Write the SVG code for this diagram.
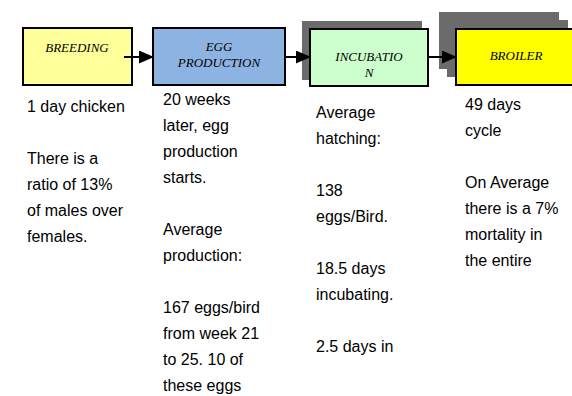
<svg xmlns="http://www.w3.org/2000/svg" width="572" height="396" viewBox="0 0 572 396">
<style>
.box{stroke:#000;stroke-width:2}
.shadow{fill:#6b6b6b}
.lbl{font-family:"Liberation Serif","Times New Roman",serif;font-style:italic;font-size:13px;fill:#000;text-anchor:middle}
.body{font-family:"Liberation Sans",Arial,sans-serif;font-size:16px;fill:#000}
.conn{stroke:#000;stroke-width:2;fill:none}
</style>
<defs>
<marker id="arr" markerWidth="15" markerHeight="13" refX="14" refY="6.5" orient="auto" markerUnits="userSpaceOnUse" viewBox="0 0 15 13">
<path d="M0,0 L15,6.5 L0,13 Z" fill="#000"/>
</marker>
</defs>
<rect width="572" height="396" fill="#fff"/>
<g id="breeding">
<rect class="box" x="23" y="28" width="109" height="57" fill="#ffff99"/>
<text class="lbl" x="77" y="52">BREEDING</text>
</g>
<g id="egg-production">
<rect class="box" x="153" y="28" width="132" height="57" fill="#8db3e2"/>
<text class="lbl" x="219" y="51">EGG</text>
<text class="lbl" x="219" y="67">PRODUCTION</text>
</g>
<g id="incubation">
<rect class="shadow" x="302" y="21" width="120" height="59"/>
<rect class="box" x="310" y="29" width="118" height="57" fill="#ccffcc"/>
<text class="lbl" x="369" y="61">INCUBATIO</text>
<text class="lbl" x="369" y="77">N</text>
</g>
<g id="broiler">
<rect class="shadow" x="439" y="12" width="120" height="57"/>
<rect class="shadow" x="447" y="20" width="121" height="57"/>
<rect class="box" x="456" y="29" width="122" height="56" fill="#ffff00"/>
<text class="lbl" x="516" y="60">BROILER</text>
</g>
<g id="connectors">
<line class="conn" x1="124" y1="57" x2="153" y2="57" marker-end="url(#arr)"/>
<line class="conn" x1="285" y1="57" x2="310" y2="57" marker-end="url(#arr)"/>
<line class="conn" x1="428" y1="57" x2="456" y2="57" marker-end="url(#arr)"/>
</g>
<g id="notes-breeding" class="body">
<text x="27" y="112">1 day chicken</text>
<text x="27" y="164">There is a</text>
<text x="27" y="190">ratio of 13%</text>
<text x="27" y="216">of males over</text>
<text x="27" y="242">females.</text>
</g>
<g id="notes-egg" class="body">
<text x="163" y="105">20 weeks</text>
<text x="163" y="131">later, egg</text>
<text x="163" y="157">production</text>
<text x="163" y="183">starts.</text>
<text x="163" y="235">Average</text>
<text x="163" y="261">production:</text>
<text x="163" y="313">167 eggs/bird</text>
<text x="163" y="339">from week 21</text>
<text x="163" y="365">to 25. 10 of</text>
<text x="163" y="391">these eggs</text>
</g>
<g id="notes-incubation" class="body">
<text x="316" y="118">Average</text>
<text x="316" y="144">hatching:</text>
<text x="316" y="196">138</text>
<text x="316" y="222">eggs/Bird.</text>
<text x="316" y="274">18.5 days</text>
<text x="316" y="300">incubating.</text>
<text x="316" y="352">2.5 days in</text>
</g>
<g id="notes-broiler" class="body">
<text x="465" y="110">49 days</text>
<text x="465" y="136">cycle</text>
<text x="465" y="188">On Average</text>
<text x="465" y="214">there is a 7%</text>
<text x="465" y="240">mortality in</text>
<text x="465" y="266">the entire</text>
</g>
</svg>
